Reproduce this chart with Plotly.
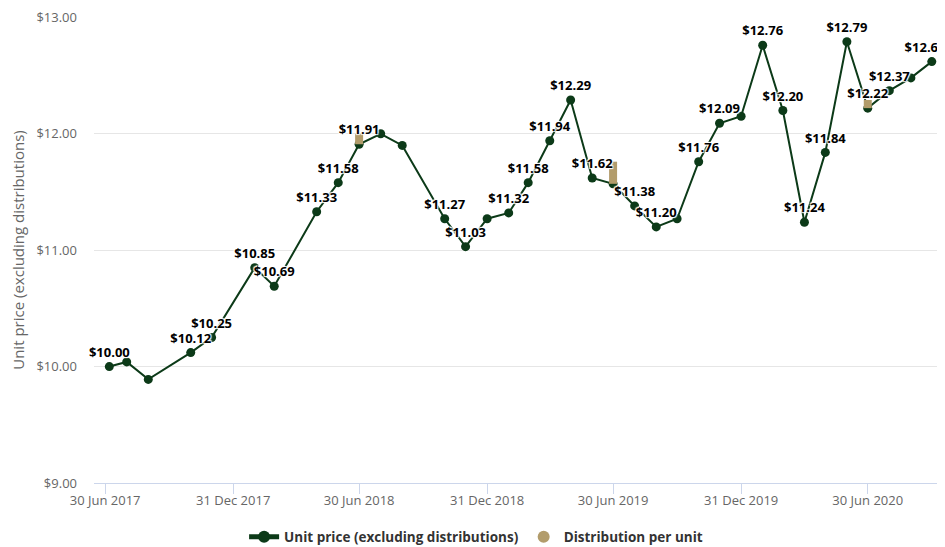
import plotly.graph_objects as go

# ---- data ----
dates = [
    "2017-07-06", "2017-07-31", "2017-08-31", "2017-10-31", "2017-11-30",
    "2018-01-31", "2018-02-28", "2018-04-30", "2018-05-31", "2018-06-30",
    "2018-07-31", "2018-08-31", "2018-10-31", "2018-11-30", "2018-12-31",
    "2019-01-31", "2019-02-28", "2019-03-31", "2019-04-30", "2019-05-31",
    "2019-06-30", "2019-07-31", "2019-08-31", "2019-09-30", "2019-10-31",
    "2019-11-30", "2019-12-31", "2020-01-31", "2020-02-29", "2020-03-31",
    "2020-04-30", "2020-05-31", "2020-06-30", "2020-07-31", "2020-08-31",
    "2020-09-30",
]
unit_price = [
    10.00, 10.04, 9.89, 10.12, 10.25,
    10.85, 10.69, 11.33, 11.58, 11.91,
    12.00, 11.90, 11.27, 11.03, 11.27,
    11.32, 11.58, 11.94, 12.29, 11.62,
    11.57, 11.38, 11.20, 11.27, 11.76,
    12.09, 12.15, 12.76, 12.20, 11.24,
    11.84, 12.79, 12.22, 12.37, 12.48,
    12.62,
]
# which points show a data label (others hidden by overlap in the original)
show_label = [
    1, 0, 0, 1, 1,
    1, 1, 1, 1, 1,
    0, 0, 1, 1, 0,
    1, 1, 1, 1, 1,
    0, 1, 1, 0, 1,
    1, 0, 1, 1, 1,
    1, 1, 1, 1, 0,
    1,
]
dist_dates = ["2018-06-30", "2019-06-30", "2020-06-30"]
dist_base = [11.91, 11.57, 12.22]
dist_value = [0.09, 0.19, 0.07]

tick_dates = ["2017-06-30", "2017-12-31", "2018-06-30", "2018-12-31",
              "2019-06-30", "2019-12-31", "2020-06-30"]
tick_text = ["30 Jun 2017", "31 Dec 2017", "30 Jun 2018", "31 Dec 2018",
             "30 Jun 2019", "31 Dec 2019", "30 Jun 2020"]
y_ticks = [9, 10, 11, 12, 13]
y_text = ["$9.00", "$10.00", "$11.00", "$12.00", "$13.00"]

LINE = "#0c3a18"
TAN = "#b29c6b"
FONT = "Open Sans"

labels = [f"${v:.2f}" if s else "" for v, s in zip(unit_price, show_label)]
# nudge the last label left so it stays inside the chart edge (as in the original)
labels[-1] = labels[-1] + "\u00a0" * 4

# distribution columns as vertical segments (base -> base + distribution)
seg_x, seg_y = [], []
for d, b, v in zip(dist_dates, dist_base, dist_value):
    seg_x += [d, d, None]
    seg_y += [b, b + v, None]

fig = go.Figure()

fig.add_trace(go.Scatter(
    x=dates, y=unit_price, mode="lines+markers",
    name="Unit price (excluding distributions)",
    line=dict(color=LINE, width=2),
    marker=dict(color=LINE, size=9),
))

fig.add_trace(go.Scatter(
    x=seg_x, y=seg_y, mode="lines", line=dict(color=TAN, width=8),
    name="Distribution per unit", showlegend=False, connectgaps=False,
))

# data labels drawn on top of everything
fig.add_trace(go.Scatter(
    x=dates, y=unit_price, mode="markers+text", showlegend=False, hoverinfo="skip",
    marker=dict(size=9, opacity=0),
    text=labels, textposition="top center",
    textfont=dict(family=FONT, size=13, color="#000000", weight="bold",
                  shadow="1px 1px 1px #fff, -1px -1px 1px #fff, 1px -1px 1px #fff, -1px 1px 1px #fff"),
    cliponaxis=False,
))

# legend entry for distribution (circle symbol like the original)
fig.add_trace(go.Scatter(
    x=[None], y=[None], mode="markers", name="Distribution per unit",
    marker=dict(color=TAN, size=13, symbol="circle"),
))

fig.update_layout(
    width=937, height=539,
    margin=dict(l=86, r=0, t=9, b=64, autoexpand=False),
    plot_bgcolor="white", paper_bgcolor="white",
    font=dict(family=FONT, size=13, color="#666666"),
    legend=dict(orientation="h", x=0.449, xanchor="center",
                y=-0.116, yanchor="middle",
                font=dict(family=FONT, size=13.5, color="#333333", weight="bold"),
                itemsizing="constant"),
    xaxis=dict(
        type="date", range=["2017-06-14", "2020-10-19"],
        tickvals=tick_dates, ticktext=tick_text, tickangle=0,
        showgrid=False, showline=True, linecolor="#ccd6eb", linewidth=1,
        ticks="outside", ticklen=10, tickcolor="#ccd6eb", tickwidth=1,
        tickfont=dict(family=FONT, size=13, color="#666666"),
        ticklabelstandoff=-5,
        zeroline=False,
    ),
    yaxis=dict(
        range=[9, 13.003], tickvals=y_ticks, ticktext=y_text,
        showgrid=True, gridcolor="#e6e6e6", gridwidth=1,
        zeroline=False, showline=False,
        tickfont=dict(family=FONT, size=13, color="#666666"),
        ticklabelstandoff=16, ticklabeloverflow="allow",
        title=dict(text="Unit price (excluding distributions)",
                   font=dict(family=FONT, size=15, color="#666666"), standoff=10),
    ),
)

fig.write_html("out.html")
